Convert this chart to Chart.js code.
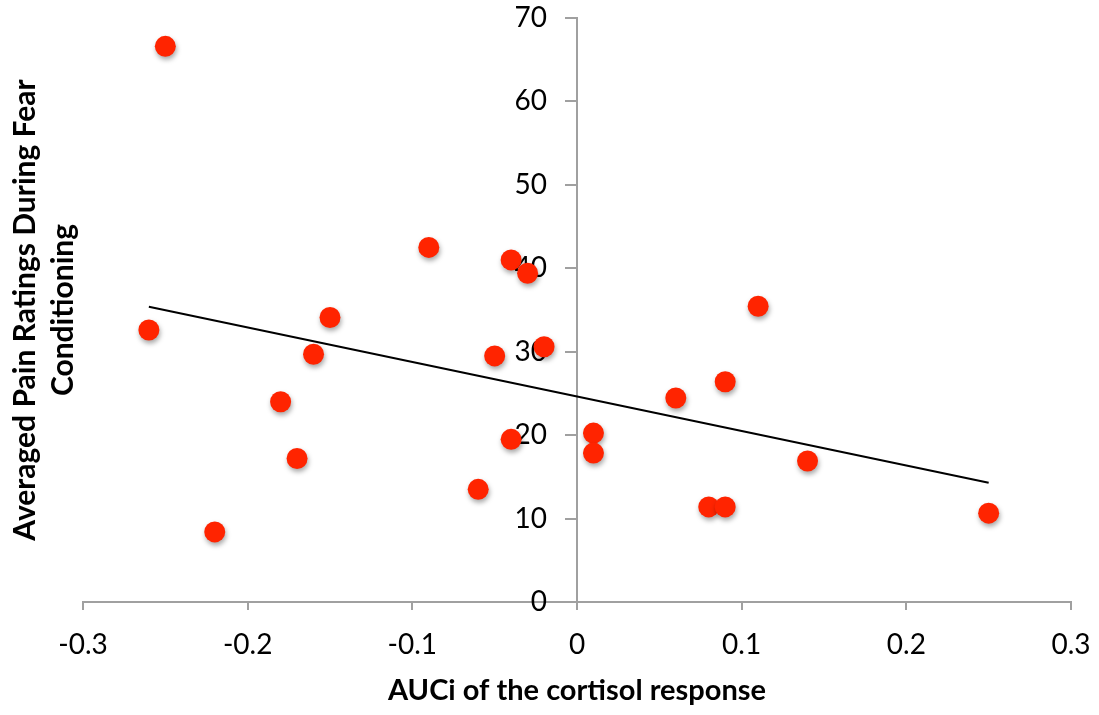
<!DOCTYPE html>
<html><head><meta charset="utf-8">
<script src="https://cdn.jsdelivr.net/npm/chart.js@4"></script>
<style>html,body{margin:0;padding:0;background:#fff}</style>
</head><body>
<canvas id="c" width="1099" height="715" style="display:block;width:1099px;height:715px"></canvas>
<script>
const cortisolAUCi = [-0.25, -0.26, -0.22, -0.18, -0.17, -0.16, -0.15, -0.09, -0.06, -0.05, -0.04, -0.04, -0.03, -0.02, 0.01, 0.01, 0.06, 0.08, 0.09, 0.09, 0.11, 0.14, 0.25];
const painRatings  = [66.6, 32.6, 8.4, 24.0, 17.2, 29.7, 34.1, 42.5, 13.5, 29.5, 41.0, 19.5, 39.4, 30.6, 20.25, 17.85, 24.45, 11.4, 11.4, 26.4, 35.45, 16.9, 10.65];
const trendX = [-0.26, 0.25];
const trendY = [35.4, 14.3];
const xTickValues = [-0.3, -0.2, -0.1, 0, 0.1, 0.2, 0.3];
const yTickValues = [0, 10, 20, 30, 40, 50, 60, 70];
const xTitle = 'AUCi of the cortisol response';
const yTitle = ['Averaged Pain Ratings During Fear', 'Conditioning'];

const AXIS_GREY = '#a0a0a0';

const shadowPlugin = {
  id: 'pointShadow',
  beforeDatasetDraw(chart, args) {
    if (args.index !== 0) return;
    const ctx = chart.ctx;
    ctx.save();
    ctx.shadowColor = 'rgba(0,0,0,0.35)';
    ctx.shadowBlur = 5;
    ctx.shadowOffsetX = 1;
    ctx.shadowOffsetY = 3;
  },
  afterDatasetDraw(chart, args) {
    if (args.index !== 0) return;
    chart.ctx.restore();
  }
};

const fmt = v => String(Math.round(v * 10) / 10);

new Chart(document.getElementById('c'), {
  type: 'scatter',
  data: {
    datasets: [
      {
        data: cortisolAUCi.map((x, i) => ({x, y: painRatings[i]})),
        backgroundColor: '#ff2400',
        borderWidth: 0,
        pointRadius: 10.5,
        pointHoverRadius: 10.5,
        order: 2
      },
      {
        type: 'line',
        data: trendX.map((x, i) => ({x, y: trendY[i]})),
        borderColor: '#000',
        borderWidth: 2,
        pointRadius: 0,
        fill: false,
        order: 1
      }
    ]
  },
  options: {
    responsive: false,
    animation: false,
    devicePixelRatio: 1,
    layout: {padding: {left: 0, right: 28, top: 18, bottom: 0}},
    plugins: {legend: {display: false}, tooltip: {enabled: false}},
    scales: {
      x: {
        type: 'linear', position: 'bottom', min: -0.3, max: 0.3,
        afterBuildTicks: s => { s.ticks = xTickValues.map(v => ({value: v})); },
        afterFit: s => { s.height = 113; s.paddingLeft = 0; s.paddingRight = 0; },
        ticks: {font: {family: 'Lato', size: 28}, color: '#000', padding: 18, maxRotation: 0, autoSkip: false, callback: v => fmt(v)},
        grid: {drawOnChartArea: false, drawTicks: true, tickLength: 8, color: AXIS_GREY, lineWidth: 2},
        border: {color: AXIS_GREY, width: 2},
        title: {display: true, text: xTitle, color: '#000', font: {family: 'Lato', size: 29, weight: 'bold'}, padding: {top: 0, bottom: 7}}
      },
      y: {
        type: 'linear', position: 'center', min: 0, max: 70,
        afterBuildTicks: s => { s.ticks = yTickValues.map(v => ({value: v})); },
        afterFit: s => { s.paddingTop = 0; s.paddingBottom = 0; },
        ticks: {font: {family: 'Lato', size: 28}, color: '#000', padding: 19, autoSkip: false, callback: v => fmt(v)},
        grid: {drawOnChartArea: false, drawTicks: true, tickLength: 11, color: AXIS_GREY, lineWidth: 2},
        border: {color: AXIS_GREY, width: 2}
      },
      y2: {
        type: 'linear', position: 'left', display: true,
        afterFit: s => { s.width = 83; s.paddingTop = 0; s.paddingBottom = 0; },
        grid: {display: false}, border: {display: false}, ticks: {display: false},
        title: {display: true, text: yTitle, color: '#000', font: {family: 'Lato', size: 30, weight: 'bold', lineHeight: 1.27}, padding: {top: 6, bottom: 0}}
      }
    }
  },
  plugins: [shadowPlugin]
});
</script>
</body></html>
